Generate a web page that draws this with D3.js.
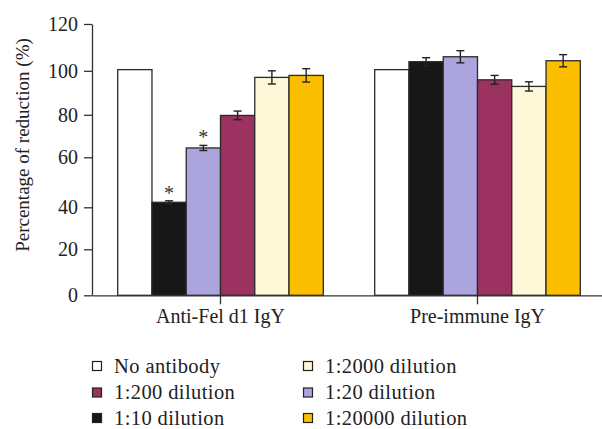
<!DOCTYPE html>
<html>
<head>
<meta charset="utf-8">
<script src="https://cdn.jsdelivr.net/npm/d3@7"></script>
<style>
  html, body { margin: 0; padding: 0; background: #fff; }
  svg { display: block; }
  text { font-family: "Liberation Serif", "DejaVu Serif", serif; fill: #222; }
</style>
</head>
<body>
<svg id="chart" width="602" height="429"></svg>
<script>
// ---- data ----
const categories = ["Anti-Fel d1 IgY", "Pre-immune IgY"];
const seriesNames = ["No antibody", "1:10 dilution", "1:20 dilution", "1:200 dilution", "1:2000 dilution", "1:20000 dilution"];
const seriesColors = ["#ffffff", "#171717", "#aba4dd", "#9c3260", "#fff8d8", "#fbbf00"];
const antiFelValues = [100.5, 42, 64.4, 79.7, 97, 97.9];
const antiFelErrors = [0, 0.6, 1.2, 2.0, 3.0, 3.0];
const preImmuneValues = [100.5, 103.9, 106, 95.9, 92.9, 104.3];
const preImmuneErrors = [0, 1.7, 2.6, 2.0, 2.1, 2.6];
const significant = [[false, true, true, false, false, false], [false, false, false, false, false, false]];
const yTickValues = [0, 20, 40, 60, 80, 100, 120];
const legendOrder = ["No antibody", "1:200 dilution", "1:10 dilution", "1:2000 dilution", "1:20 dilution", "1:20000 dilution"];

const valuesByCat = [antiFelValues, preImmuneValues];
const errorsByCat = [antiFelErrors, preImmuneErrors];

const rows = [];
categories.forEach((c, ci) => {
  seriesNames.forEach((s, si) => {
    rows.push({cat: c, series: s, value: valuesByCat[ci][si], err: errorsByCat[ci][si], sig: significant[ci][si], color: seriesColors[si]});
  });
});

// ---- layout ----
const svg = d3.select("#chart");
const axisColor = "#333";

const x0 = d3.scaleBand().domain(categories).range([92, 606]).paddingInner(0.2).paddingOuter(0.1);
const x1 = d3.scaleBand().domain(seriesNames).range([0, x0.bandwidth()]).padding(0);
// axis tick positions as drawn in the original figure
const y = d3.scaleLinear().domain(yTickValues).range([295.3, 249.3, 207.3, 157.3, 114.8, 70.8, 24]);

// bars
const g = svg.append("g");
g.selectAll("rect.bar").data(rows).join("rect")
  .attr("class", "bar")
  .attr("x", d => x0(d.cat) + x1(d.series))
  .attr("y", d => y(d.value))
  .attr("width", x1.bandwidth())
  .attr("height", d => y(0) - y(d.value))
  .attr("fill", d => d.color)
  .attr("stroke", "#2a2a2a")
  .attr("stroke-width", 1.3);

// error bars
const eb = rows.filter(d => d.err > 0);
const cx = d => x0(d.cat) + x1(d.series) + x1.bandwidth() / 2;
g.selectAll("line.err").data(eb).join("line")
  .attr("x1", cx).attr("x2", cx)
  .attr("y1", d => y(d.value - d.err)).attr("y2", d => y(d.value + d.err))
  .attr("stroke", "#222").attr("stroke-width", 1.4);
g.selectAll("line.capt").data(eb).join("line")
  .attr("x1", d => cx(d) - 4).attr("x2", d => cx(d) + 4)
  .attr("y1", d => y(d.value + d.err)).attr("y2", d => y(d.value + d.err))
  .attr("stroke", "#222").attr("stroke-width", 1.4);
g.selectAll("line.capb").data(eb).join("line")
  .attr("x1", d => cx(d) - 4).attr("x2", d => cx(d) + 4)
  .attr("y1", d => y(d.value - d.err)).attr("y2", d => y(d.value - d.err))
  .attr("stroke", "#222").attr("stroke-width", 1.4);

// significance asterisks
g.selectAll("text.sig").data(rows.filter(d => d.sig)).join("text")
  .attr("x", cx)
  .attr("y", d => y(d.value + d.err) - 1.3)
  .attr("text-anchor", "middle")
  .style("font-size", "20px")
  .style("fill", "#333")
  .text("*");

// axes
const yAxis = svg.append("g").attr("transform", "translate(92,0)")
  .call(d3.axisLeft(y).tickValues(yTickValues).tickSize(8).tickSizeOuter(0).tickPadding(6));
yAxis.selectAll("text").style("font-size", "20px").style("fill", "#222");

const xAxis = svg.append("g").attr("transform", `translate(0,${y(0)})`)
  .call(d3.axisBottom(x0).tickSize(9).tickSizeOuter(0).tickPadding(5));
xAxis.selectAll("text").style("font-size", "20px").style("fill", "#222");

svg.selectAll(".domain, .tick line").attr("stroke", axisColor).attr("stroke-width", 1.3);

// y title
svg.append("text")
  .attr("transform", "translate(29,145) rotate(-90)")
  .attr("text-anchor", "middle")
  .style("font-size", "19px")
  .text("Percentage of reduction (%)");

// legend
const legend = svg.append("g");
const legendCol = i => (i < 3 ? 0 : 1);
const legendRowY = [366, 392.5, 418];
const legendColX = [92, 303];
legendOrder.forEach((name, i) => {
  const si = seriesNames.indexOf(name);
  const col = legendCol(i), row = i % 3;
  const lg = legend.append("g").attr("transform", `translate(${legendColX[col]},${legendRowY[row]})`);
  lg.append("rect").attr("x", 0.5).attr("y", -4.5).attr("width", 9).attr("height", 9)
    .attr("fill", seriesColors[si]).attr("stroke", "#222").attr("stroke-width", 1.2);
  lg.append("text").attr("x", 22).attr("y", 6.5)
    .style("font-size", "20.5px").style("letter-spacing", "0.4px")
    .text(name);
});
</script>
</body>
</html>
